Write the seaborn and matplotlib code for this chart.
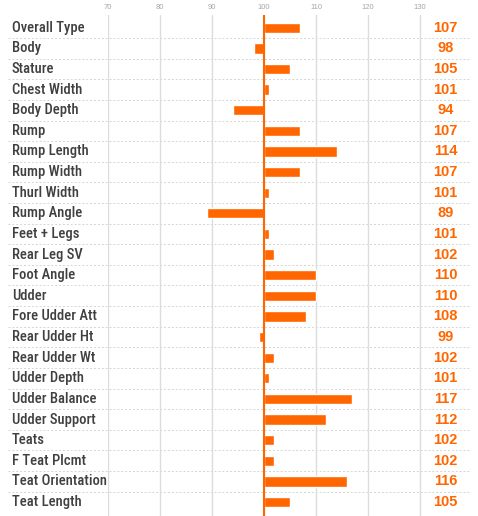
import matplotlib
matplotlib.use("Agg")
import matplotlib.pyplot as plt
import seaborn as sns
import pandas as pd

traits = ["Overall Type", "Body", "Stature", "Chest Width", "Body Depth", "Rump",
          "Rump Length", "Rump Width", "Thurl Width", "Rump Angle", "Feet + Legs",
          "Rear Leg SV", "Foot Angle", "Udder", "Fore Udder Att", "Rear Udder Ht",
          "Rear Udder Wt", "Udder Depth", "Udder Balance", "Udder Support", "Teats",
          "F Teat Plcmt", "Teat Orientation", "Teat Length"]
values = [107, 98, 105, 101, 94, 107, 114, 107, 101, 89, 101, 102, 110, 110, 108,
          99, 102, 101, 117, 112, 102, 102, 116, 105]
tick_values = [70, 80, 90, 100, 110, 120, 130]
base = 100

df = pd.DataFrame({"trait": traits, "delta": [v - base for v in values]})

sns.set_theme(style="white")
plt.rcParams["font.family"] = ["Liberation Sans", "DejaVu Sans"]

orange = "#FF6600"
W, H = 478, 516
fig = plt.figure(figsize=(W / 100, H / 100), dpi=100)
ax_left, ax_right, ax_top = 108, 470, 15
ax = fig.add_axes([ax_left / W, 0.0, (ax_right - ax_left) / W, 1 - ax_top / H])

sns.barplot(data=df, x="delta", y="trait", orient="h", color=orange,
            width=0.5, saturation=1, ax=ax, zorder=3)

n = len(traits)
ax.set_ylim(n - 1 + 0.68, -0.62)
ax.set_xlim(tick_values[0] - base, 139.6 - base)
ax.set_xticks([t - base for t in tick_values])
ax.set_xticklabels([str(t) for t in tick_values])
ax.xaxis.tick_top()
ax.tick_params(axis="x", length=0, labelsize=5.5, labelcolor="#a6a6a6", pad=3)
ax.set_yticks([])
ax.set_xlabel("")
ax.set_ylabel("")
for s in ax.spines.values():
    s.set_visible(False)

for t in tick_values:
    ax.axvline(t - base, color="#dcdcdc", lw=1, zorder=1)
ax.axvline(0, color=orange, lw=1.5, zorder=4)

tr = ax.get_yaxis_transform()
x_sep = (8 - ax_left) / (ax_right - ax_left)
x_lab = (12 - ax_left) / (ax_right - ax_left)
for i in range(n - 1):
    ax.plot([x_sep, 1.0], [i + 0.5, i + 0.5], color="#d4d4d4", lw=0.7,
            ls=(0, (2, 2)), clip_on=False, zorder=0, transform=tr)

for i, (name, v) in enumerate(zip(traits, values)):
    ax.text(x_lab, i, name, ha="left", va="center", fontsize=10.5,
            family=["Roboto Condensed", "DejaVu Sans"], color="#404040",
            fontweight="medium", transform=tr)
    ax.text(134.9 - base, i, str(v), ha="center", va="center", fontsize=10.5,
            color=orange, fontweight="bold")

fig.savefig("out.png", dpi=100)
